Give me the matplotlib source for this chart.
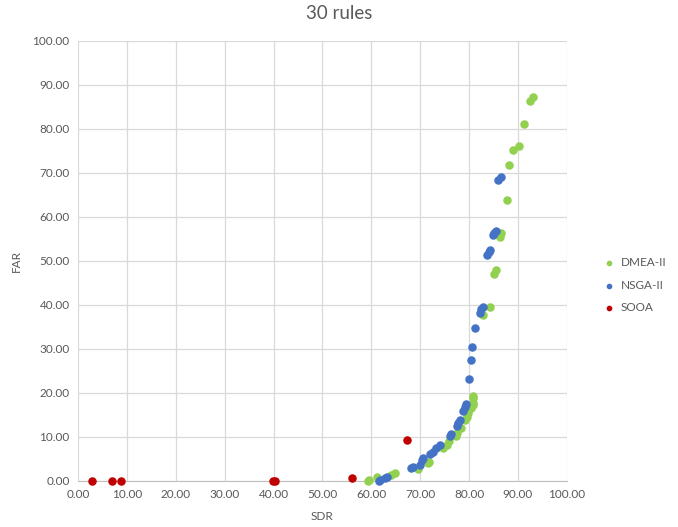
import matplotlib
matplotlib.use("Agg")
import matplotlib.pyplot as plt
from matplotlib.ticker import FormatStrFormatter

plt.rcParams["font.family"] = ["Lato", "DejaVu Sans"]

# DMEA-II (SDR, FAR)
dmea_sdr = [59.3, 59.6, 61.1, 64.1, 64.8, 69.6, 71.6, 71.9, 74.7, 75.4, 76.0, 77.4,
            77.6, 78.3, 79.1, 79.5, 79.8, 80.5, 80.8, 80.8, 80.8, 80.9, 82.9, 84.3,
            85.1, 85.5, 86.4, 86.6, 87.7, 88.1, 89.0, 90.2, 91.2, 92.4, 93.0]
dmea_far = [0.0, 0.3, 0.8, 1.4, 1.9, 2.8, 4.0, 4.3, 7.4, 8.2, 9.0, 10.3,
            10.9, 12.0, 13.9, 14.6, 15.5, 16.5, 17.3, 17.8, 18.8, 19.4, 37.7, 39.5,
            47.0, 48.0, 55.5, 56.4, 63.9, 71.8, 75.2, 76.1, 81.1, 86.4, 87.3]

# NSGA-II
nsga_sdr = [61.5, 61.8, 62.8, 63.3, 68.2, 68.6, 69.9, 70.3, 70.6, 72.0, 72.7, 73.3,
            74.0, 76.1, 76.4, 77.5, 77.8, 78.1, 78.7, 79.1, 79.3, 80.0, 80.3, 80.7,
            81.2, 82.2, 82.5, 82.8, 83.6, 84.0, 84.3, 84.9, 85.2, 85.5, 86.0, 86.5]
nsga_far = [0.0, 0.2, 0.6, 0.9, 2.9, 3.2, 3.6, 4.8, 5.3, 6.1, 6.7, 7.4,
            8.2, 10.2, 10.7, 12.5, 13.2, 13.9, 15.8, 16.9, 17.5, 23.2, 27.5, 30.4,
            34.7, 38.1, 39.0, 39.6, 51.4, 52.0, 52.5, 55.9, 56.3, 56.7, 68.5, 69.1]

# SOOA
sooa_sdr = [2.8, 6.9, 8.8, 39.9, 40.4, 56.0, 67.3]
sooa_far = [0.0, 0.0, 0.0, 0.0, 0.0, 0.7, 9.3]

fig = plt.figure(figsize=(6.78, 5.27), dpi=100)
ax = fig.add_axes([0.115, 0.0873, 0.721, 0.835])

ax.scatter(dmea_sdr, dmea_far, s=26, color="#92D050", label="DMEA-II", zorder=3, clip_on=False)
ax.scatter(nsga_sdr, nsga_far, s=26, color="#4472C4", label="NSGA-II", zorder=3, clip_on=False)
ax.scatter(sooa_sdr, sooa_far, s=26, color="#C00000", label="SOOA", zorder=3, clip_on=False)

ax.set_xlim(0, 100)
ax.set_ylim(0, 100)
ax.set_xticks(range(0, 101, 10))
ax.set_yticks(range(0, 101, 10))
ax.xaxis.set_major_formatter(FormatStrFormatter("%.2f"))
ax.yaxis.set_major_formatter(FormatStrFormatter("%.2f"))
ax.tick_params(length=0, labelsize=8.5, labelcolor="#595959", pad=6)
ax.grid(color="#D9D9D9", linewidth=0.9)
ax.set_axisbelow(True)
for side in ("top", "right", "left"):
    ax.spines[side].set_visible(False)
ax.spines["bottom"].set_color("#BFBFBF")

ax.set_xlabel("SDR", fontsize=8.5, color="#595959", labelpad=8)
ax.set_ylabel("FAR", fontsize=8.5, color="#595959", labelpad=8)
fig.suptitle("30 rules", fontsize=13.5, color="#595959", y=0.99)

ax.legend(loc="center left", bbox_to_anchor=(1.04, 0.445), frameon=False,
          fontsize=8.5, labelcolor="#595959", handletextpad=0.0,
          markerscale=0.6, labelspacing=1.0)

fig.savefig("out.png", dpi=100)
